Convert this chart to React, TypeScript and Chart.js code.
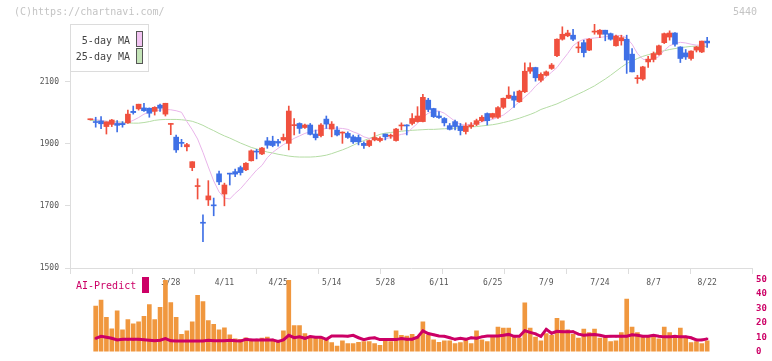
import React, { useEffect, useRef } from 'react';
import { Chart, registerables } from 'chart.js';
Chart.register(...registerables);

// ---------- data ----------
const stockCode = '5440';
const tickLabels = ['3/28', '4/11', '4/25', '5/14', '5/28', '6/11', '6/25', '7/9', '7/24', '8/7', '8/22'];
const tickIndex = [15, 25, 35, 45, 55, 65, 75, 85, 95, 105, 115];
const priceTicks = [1500, 1700, 1900, 2100];
const aiTicks = [0, 10, 20, 30, 40, 50];

const openP = [1977, 1971, 1973, 1955, 1962, 1965, 1965, 1967, 2004, 2012, 2015, 2014, 2004, 2024, 1995, 1962, 1921, 1903, 1890, 1823,
  1762, 1646, 1719, 1703, 1803, 1738, 1804, 1810, 1823, 1816, 1845, 1875, 1867, 1909, 1908, 1907, 1912, 1901, 1958, 1965,
  1952, 1960, 1931, 1926, 1979, 1947, 1944, 1934, 1933, 1922, 1920, 1901, 1894, 1912, 1910, 1931, 1924, 1910, 1957, 1960,
  1965, 1971, 1971, 2040, 2013, 1989, 1981, 1958, 1971, 1957, 1939, 1955, 1962, 1974, 1997, 1985, 1985, 2017, 2046, 2053,
  2035, 2067, 2133, 2145, 2104, 2120, 2142, 2183, 2236, 2247, 2249, 2208, 2225, 2201, 2259, 2252, 2265, 2254, 2215, 2231,
  2236, 2188, 2109, 2108, 2163, 2171, 2187, 2225, 2243, 2256, 2211, 2192, 2174, 2201, 2195, 2230];
const highP = [1979, 1985, 1987, 1970, 1978, 1974, 1971, 2008, 2021, 2027, 2030, 2015, 2019, 2027, 2030, 1965, 1928, 1914, 1901, 1842,
  1787, 1671, 1781, 1725, 1812, 1773, 1805, 1818, 1828, 1839, 1880, 1882, 1888, 1920, 1924, 1914, 1931, 2021, 1981, 1967,
  1963, 1965, 1944, 1965, 1989, 1971, 1955, 1938, 1938, 1928, 1928, 1906, 1912, 1936, 1922, 1931, 1931, 1949, 1967, 1961,
  1997, 2019, 2059, 2046, 2014, 2003, 1984, 1965, 1976, 1965, 1967, 1968, 1979, 1990, 1999, 1998, 2019, 2047, 2083, 2067,
  2072, 2160, 2160, 2146, 2128, 2134, 2158, 2237, 2276, 2265, 2268, 2227, 2233, 2238, 2284, 2267, 2265, 2256, 2249, 2249,
  2249, 2206, 2120, 2149, 2181, 2195, 2217, 2256, 2263, 2257, 2212, 2203, 2199, 2213, 2230, 2242];
const lowP = [1976, 1953, 1948, 1931, 1955, 1938, 1953, 1965, 1995, 2008, 2004, 1985, 1992, 2004, 1989, 1929, 1872, 1890, 1877, 1813,
  1722, 1585, 1701, 1668, 1768, 1700, 1767, 1794, 1799, 1813, 1844, 1851, 1865, 1885, 1890, 1892, 1909, 1880, 1928, 1933,
  1949, 1928, 1912, 1922, 1949, 1922, 1925, 1901, 1917, 1901, 1896, 1885, 1890, 1909, 1906, 1912, 1917, 1908, 1944, 1928,
  1960, 1969, 1970, 2003, 1984, 1981, 1957, 1944, 1944, 1928, 1931, 1949, 1958, 1971, 1960, 1981, 1981, 2013, 2045, 2017,
  2033, 2064, 2126, 2101, 2099, 2118, 2139, 2180, 2233, 2244, 2231, 2193, 2179, 2199, 2252, 2241, 2231, 2233, 2214, 2217,
  2126, 2131, 2094, 2104, 2145, 2163, 2185, 2222, 2233, 2214, 2161, 2171, 2169, 2195, 2193, 2210];
const closeP = [1978, 1968, 1964, 1970, 1976, 1959, 1961, 1995, 2000, 2027, 2006, 1998, 2017, 2014, 2030, 1964, 1880, 1901, 1897, 1842,
  1764, 1644, 1732, 1700, 1777, 1767, 1802, 1802, 1807, 1837, 1877, 1873, 1886, 1895, 1894, 1902, 1920, 2005, 1961, 1949,
  1960, 1930, 1919, 1960, 1963, 1963, 1928, 1936, 1920, 1906, 1906, 1894, 1910, 1920, 1917, 1922, 1926, 1947, 1959, 1957,
  1981, 1989, 2049, 2010, 1987, 1984, 1967, 1946, 1955, 1942, 1957, 1960, 1974, 1985, 1974, 1997, 2016, 2046, 2056, 2040,
  2069, 2133, 2145, 2112, 2123, 2131, 2153, 2236, 2252, 2256, 2236, 2210, 2193, 2236, 2261, 2265, 2252, 2236, 2246, 2241,
  2169, 2131, 2111, 2147, 2172, 2190, 2215, 2254, 2256, 2220, 2174, 2179, 2198, 2211, 2230, 2224];

const ma5 = [1978, 1977, 1975, 1972, 1970, 1968, 1965, 1968, 1975, 1984, 1995, 2001, 2006, 2008, 2010, 2009, 2006, 2001, 1971, 1945,
  1915, 1872, 1825, 1780, 1745, 1725, 1722, 1740, 1755, 1775, 1795, 1815, 1830, 1855, 1872, 1885, 1897, 1907, 1917, 1925,
  1933, 1938, 1942, 1946, 1949, 1950, 1950, 1949, 1946, 1938, 1932, 1922, 1917, 1915, 1914, 1915, 1920, 1925, 1930, 1933,
  1950, 1965, 1985, 1998, 2004, 2005, 1998, 1985, 1972, 1962, 1960, 1963, 1966, 1970, 1975, 1978, 1985, 1992, 2005, 2020,
  2035, 2050, 2065, 2085, 2100, 2115, 2130, 2145, 2168, 2190, 2215, 2228, 2236, 2238, 2240, 2242, 2244, 2246, 2247, 2248,
  2240, 2220, 2190, 2172, 2168, 2172, 2180, 2200, 2215, 2222, 2226, 2224, 2220, 2217, 2217, 2217];
const ma25 = [1975, 1974, 1973, 1972, 1971, 1970, 1969, 1967, 1966, 1966, 1968, 1971, 1975, 1977, 1978, 1978, 1978, 1977, 1975, 1972,
  1966, 1959, 1950, 1942, 1933, 1925, 1918, 1910, 1902, 1895, 1888, 1883, 1878, 1873, 1870, 1866, 1863, 1860, 1858, 1857,
  1857, 1857, 1858, 1860, 1863, 1868, 1874, 1880, 1887, 1895, 1903, 1910, 1917, 1923, 1930, 1934, 1936, 1938, 1940, 1942,
  1943, 1944, 1945, 1946, 1946, 1947, 1948, 1949, 1950, 1951, 1952, 1954, 1955, 1957, 1959, 1961, 1964, 1968, 1972, 1977,
  1982, 1988, 1994, 2001, 2010, 2016, 2022, 2028, 2036, 2044, 2052, 2060, 2068, 2077, 2086, 2097, 2108, 2120, 2133, 2146,
  2158, 2166, 2174, 2181, 2186, 2191, 2195, 2199, 2203, 2206, 2209, 2211, 2213, 2214, 2213, 2212];

const volume = [null, 31.5, 35.6, 23.8, 15.8, 28.3, 15.0, 22.1, 19.2, 20.6, 24.4, 32.5, 22.1, 30.6, 49.4, 34.0, 23.8, 11.9, 14.4, 20.6,
  39.0, 34.6, 21.5, 18.8, 15.0, 16.5, 11.7, 8.8, 8.5, 9.6, 8.5, 8.5, 9.4, 10.0, 8.5, 7.5, 14.4, 49.4, 18.1, 18.1,
  12.5, 9.6, 10.0, 10.0, 8.5, 6.3, 3.8, 7.5, 5.6, 5.6, 6.5, 6.9, 6.9, 5.6, 4.4, 7.5, 6.9, 14.4, 11.3, 10.7,
  11.9, 10.2, 20.6, 11.7, 8.1, 6.5, 7.5, 7.5, 5.6, 6.3, 8.8, 5.6, 14.4, 8.1, 6.9, 10.6, 16.9, 16.3, 16.3, 10.0,
  9.4, 33.8, 16.3, 10.0, 7.5, 12.5, 11.3, 23.1, 21.3, 15.0, 11.9, 9.4, 15.6, 13.1, 15.6, 9.4, 11.3, 6.9, 7.5, 13.1,
  36.3, 16.9, 13.1, 10.0, 10.0, 10.6, 8.8, 16.9, 13.1, 10.0, 16.3, 9.4, 6.3, 6.9, 5.6, 7.5];
const aiPredict = [null, 9.2, 10.6, 10.0, 9.2, 8.1, 8.5, 8.5, 8.5, 8.5, 8.2, 7.9, 7.5, 7.9, 9.0, 7.5, 7.3, 7.3, 7.3, 7.3,
  7.3, 7.3, 7.9, 7.5, 7.5, 7.5, 7.9, 7.5, 7.3, 8.5, 8.1, 8.1, 8.1, 8.1, 8.1, 7.1, 8.1, 11.3, 9.6, 10.2,
  9.2, 10.4, 10.0, 10.0, 8.5, 10.8, 10.8, 10.8, 10.6, 11.3, 9.6, 8.3, 9.2, 9.6, 8.3, 8.3, 8.3, 8.3, 9.0, 8.6,
  8.6, 10.0, 14.4, 12.5, 11.7, 10.8, 10.6, 9.6, 8.5, 9.2, 8.5, 9.6, 9.2, 10.2, 10.8, 10.8, 10.8, 11.3, 11.9, 10.6,
  10.6, 14.4, 13.3, 12.3, 10.6, 15.4, 12.7, 14.0, 13.8, 13.8, 13.8, 12.1, 11.3, 11.6, 11.9, 11.3, 10.4, 10.6, 10.6, 10.6,
  10.6, 11.7, 11.3, 10.6, 10.6, 11.3, 10.6, 10.2, 10.2, 10.6, 10.2, 10.2, 9.6, 8.1, 8.1, 8.8];

// ---------- style / layout ----------
const X_MIN = -3.79;
const X_MAX = 123.36;
const RED = '#f0503e';
const BLUE = '#3f70e6';
const PINK = '#e9b4ea';
const GREEN = '#b4dca4';
const MAGENTA = '#cc0066';
const ORANGE = '#f0973e';
const MONO = '"DejaVu Sans Mono", "Liberation Mono", monospace';
const AXIS = '#dddddd';

export default function App() {
  const mainRef = useRef<HTMLCanvasElement | null>(null);
  const volRef = useRef<HTMLCanvasElement | null>(null);

  useEffect(() => {
    const idx = openP.map((_, i) => i);
    const candleColors = idx.map((i) => (closeP[i] >= openP[i] ? RED : BLUE));

    const mainDeco = {
      id: 'mainDeco',
      afterDraw(chart: any) {
        const ctx = chart.ctx as CanvasRenderingContext2D;
        ctx.save();
        ctx.font = `10px ${MONO}`;
        ctx.textBaseline = 'middle';
        ctx.fillStyle = '#c4c4c4';
        ctx.textAlign = 'left';
        ctx.fillText('(C)https://chartnavi.com/', 14, 12);
        ctx.textAlign = 'right';
        ctx.fillText(stockCode, 757, 12);
        // legend box
        ctx.fillStyle = '#ffffff';
        ctx.fillRect(70.5, 24.5, 78, 47);
        ctx.strokeStyle = '#dcdcdc';
        ctx.lineWidth = 1;
        ctx.strokeRect(70.5, 24.5, 78, 47);
        ctx.fillStyle = '#444444';
        ctx.textAlign = 'right';
        ctx.fillText('5-day MA', 130, 41);
        ctx.fillText('25-day MA', 130, 57);
        ctx.strokeStyle = '#555555';
        ctx.fillStyle = '#f2c4f2';
        ctx.fillRect(136.5, 31.5, 6, 15);
        ctx.strokeRect(136.5, 31.5, 6, 15);
        ctx.fillStyle = '#c4e4b8';
        ctx.fillRect(136.5, 48.5, 6, 15);
        ctx.strokeRect(136.5, 48.5, 6, 15);
        ctx.restore();
      },
    };

    const main = new Chart(mainRef.current as HTMLCanvasElement, {
      type: 'bar',
      data: {
        datasets: [
          {
            type: 'line',
            data: idx.map((i) => ({ x: i, y: ma25[i] })),
            borderColor: GREEN,
            borderWidth: 1,
            pointRadius: 0,
            tension: 0,
            order: 4,
          } as any,
          {
            type: 'line',
            data: idx.map((i) => ({ x: i, y: ma5[i] })),
            borderColor: PINK,
            borderWidth: 1,
            pointRadius: 0,
            tension: 0,
            order: 3,
          } as any,
          {
            type: 'bar',
            data: idx.map((i) => ({ x: i, y: [lowP[i], highP[i]] })),
            backgroundColor: candleColors,
            barThickness: 1,
            grouped: false,
            minBarLength: 1,
            order: 2,
          } as any,
          {
            type: 'bar',
            data: idx.map((i) => ({ x: i, y: [openP[i], closeP[i]] })),
            backgroundColor: candleColors,
            barThickness: 5,
            grouped: false,
            minBarLength: 1,
            order: 1,
          } as any,
        ],
      },
      options: {
        animation: false,
        responsive: false,
        devicePixelRatio: 1,
        layout: { padding: { left: 0, right: 20, top: 24, bottom: 0 } },
        plugins: { legend: { display: false }, tooltip: { enabled: false } },
        scales: {
          x: {
            type: 'linear',
            position: 'bottom',
            offset: false,
            min: X_MIN,
            max: X_MAX,
            afterBuildTicks: (s: any) => {
              s.ticks = Array.from({ length: 12 }, (_, k) => ({ value: X_MIN + (k * (X_MAX - X_MIN)) / 11 }));
            },
            afterFit: (s: any) => {
              s.height = 7;
            },
            ticks: { display: false },
            grid: { offset: false, drawOnChartArea: false, tickLength: 6, color: AXIS },
            border: { color: AXIS },
          },
          xLabels: {
            type: 'linear',
            position: 'bottom',
            offset: false,
            min: X_MIN,
            max: X_MAX,
            afterBuildTicks: (s: any) => {
              s.ticks = tickIndex.map((v) => ({ value: v }));
            },
            afterFit: (s: any) => {
              s.height = 21;
            },
            ticks: {
              autoSkip: false,
              maxRotation: 0,
              padding: 3,
              color: '#555555',
              font: { family: MONO, size: 8 },
              callback: (v: any) => {
                const k = tickIndex.indexOf(Number(v));
                return k >= 0 ? tickLabels[k] : '';
              },
            },
            grid: { offset: false, display: false, drawTicks: false },
            border: { display: false },
          },
          y: {
            type: 'linear',
            position: 'left',
            min: 1500,
            max: 2285,
            afterBuildTicks: (s: any) => {
              s.ticks = priceTicks.map((v) => ({ value: v }));
            },
            afterFit: (s: any) => {
              s.width = 70;
            },
            ticks: {
              padding: 6,
              color: '#555555',
              font: { family: MONO, size: 8 },
              callback: (v: any) => String(v),
            },
            grid: { drawOnChartArea: false, tickLength: 5, color: AXIS },
            border: { color: AXIS },
          },
        },
      } as any,
      plugins: [mainDeco],
    });

    const volDeco = {
      id: 'volDeco',
      afterDraw(chart: any) {
        const ctx = chart.ctx as CanvasRenderingContext2D;
        ctx.save();
        ctx.font = `10px ${MONO}`;
        ctx.textBaseline = 'middle';
        ctx.textAlign = 'left';
        ctx.fillStyle = MAGENTA;
        ctx.fillText('AI-Predict', 76, 16);
        ctx.fillRect(142, 7, 7, 16);
        ctx.restore();
      },
    };

    const vidx = idx.filter((i) => volume[i] !== null);
    const vol = new Chart(volRef.current as HTMLCanvasElement, {
      type: 'bar',
      data: {
        datasets: [
          {
            type: 'line',
            data: vidx.map((i) => ({ x: i, y: aiPredict[i] })),
            borderColor: MAGENTA,
            backgroundColor: MAGENTA,
            borderWidth: 3,
            pointStyle: 'rect',
            pointRadius: 1.5,
            pointBorderWidth: 0,
            tension: 0,
            order: 0,
            yAxisID: 'y',
          } as any,
          {
            type: 'bar',
            data: vidx.map((i) => ({ x: i, y: volume[i] })),
            backgroundColor: ORANGE,
            barThickness: 4,
            grouped: false,
            order: 1,
            yAxisID: 'y',
          } as any,
        ],
      },
      options: {
        animation: false,
        responsive: false,
        devicePixelRatio: 1,
        layout: { padding: { left: 70, right: 0, top: 8, bottom: 3 } },
        plugins: { legend: { display: false }, tooltip: { enabled: false } },
        scales: {
          x: { type: 'linear', offset: false, min: X_MIN, max: X_MAX, display: false, grid: { offset: false } },
          y: {
            type: 'linear',
            position: 'right',
            min: 0,
            max: 50,
            afterBuildTicks: (s: any) => {
              s.ticks = aiTicks.map((v) => ({ value: v }));
            },
            afterFit: (s: any) => {
              s.width = 20;
            },
            ticks: { padding: 4, color: MAGENTA, font: { family: MONO, size: 9, weight: 'bold' } },
            grid: { display: false, drawTicks: false },
            border: { display: false },
          },
        },
      } as any,
      plugins: [volDeco],
    });

    return () => {
      main.destroy();
      vol.destroy();
    };
  }, []);

  return (
    <div style={{ position: 'fixed', left: 0, top: 0, width: 772, height: 361, overflow: 'hidden', background: '#ffffff' }}>
      <canvas ref={mainRef} width={772} height={296} style={{ position: 'absolute', left: 0, top: 0 }} />
      <canvas ref={volRef} width={772} height={91} style={{ position: 'absolute', left: 0, top: 270 }} />
    </div>
  );
}
